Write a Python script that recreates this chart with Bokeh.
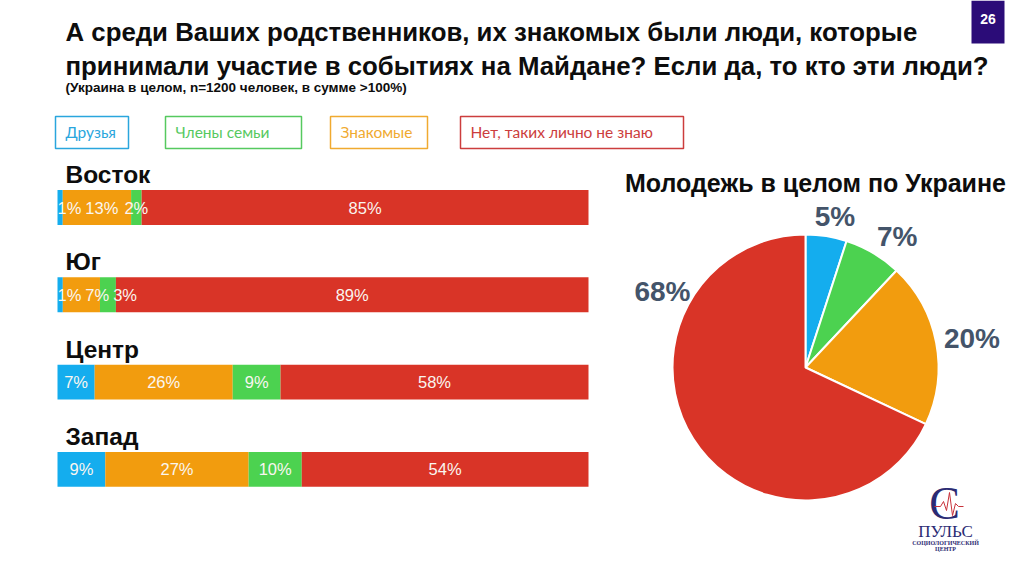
import numpy as np
from bokeh.plotting import figure
from bokeh.models import Range1d, ColumnDataSource
from bokeh.core.properties import value
from bokeh.embed import file_html
from bokeh.resources import INLINE

# ---------------- data ----------------
regions = ["Восток", "Юг", "Центр", "Запад"]
stack_order = ["Друзья", "Знакомые", "Члены семьи", "Нет, таких лично не знаю"]
friends = [1, 1, 7, 9]
acquaintances = [13, 7, 26, 27]
family = [2, 3, 9, 10]
nobody = [85, 89, 58, 54]

pie_categories = ["Друзья", "Члены семьи", "Знакомые", "Нет, таких лично не знаю"]
pie_values = [5, 7, 20, 68]

legend_items = ["Друзья", "Члены семьи", "Знакомые", "Нет, таких лично не знаю"]

title_lines = ["А среди Ваших родственников, их знакомых были люди, которые",
               "принимали участие в событиях на Майдане? Если да, то кто эти люди?"]
subtitle = "(Украина в целом, n=1200 человек, в сумме >100%)"
pie_title = "Молодежь в целом по Украине"
page_number = "26"

# ---------------- styles ----------------
bar_colors = {"Друзья": "#14ADEE", "Знакомые": "#F29C0E",
              "Члены семьи": "#4CD250", "Нет, таких лично не знаю": "#D93427"}
legend_colors = {"Друзья": "#2AA6DD", "Члены семьи": "#56C95F",
                 "Знакомые": "#F0AA30", "Нет, таких лично не знаю": "#CC3D3D"}

W, H = 1008, 553

p = figure(width=W, height=H, output_backend="svg", toolbar_location=None,
           x_axis_type=None, y_axis_type=None, min_border=0,
           x_range=Range1d(0, W), y_range=Range1d(H, 0))
p.outline_line_color = None
p.xgrid.visible = False
p.ygrid.visible = False
p.background_fill_color = "white"

ARIAL = value("Liberation Sans")
SERIF = value("Liberation Serif")
INK = "#0D0D0D"

# ---------------- bar panel: 100% stacked bars through their own ranges ----------------
bar_left_px, bar_right_px = 57, 588
px_per_pct = (bar_right_px - bar_left_px) / 100.0
row0_px, row_step_px = 207, 87.3
p.extra_x_ranges = {"pct": Range1d(-bar_left_px / px_per_pct,
                                   (W - bar_left_px) / px_per_pct)}
p.extra_y_ranges = {"row": Range1d((H - row0_px) / row_step_px,
                                   -row0_px / row_step_px)}

series = {"Друзья": friends, "Знакомые": acquaintances,
          "Члены семьи": family, "Нет, таких лично не знаю": nobody}
rows = list(range(len(regions)))
totals = np.sum([np.array(series[c], dtype=float) for c in stack_order], axis=0)
cum = np.zeros(len(regions))
segments = []
for cat in stack_order:
    raw = np.array(series[cat], dtype=float)
    share = raw / totals * 100.0
    src = ColumnDataSource(dict(y=rows, left=cum.copy(), right=cum + share))
    p.hbar(y="y", left="left", right="right", height=0.4, source=src,
           x_range_name="pct", y_range_name="row",
           fill_color=bar_colors[cat], line_color=None)
    segments.append((cum.copy(), share, raw))
    cum = cum + share

# data labels: centred, pushed right when they would overlap
fs = 16.5
def text_w(s):
    return sum(0.556 * fs if c.isdigit() else 0.889 * fs for c in s)

lx, ly, lt = [], [], []
gap = 4 / px_per_pct
for r in rows:
    prev_right = 0.0 - gap
    for start, share, raw in segments:
        s = f"{int(raw[r])}%"
        w = text_w(s) / px_per_pct
        mid = start[r] + share[r] / 2
        x = max(mid, prev_right + gap + w / 2)
        prev_right = x + w / 2
        lx.append(x); ly.append(r); lt.append(s)
p.text(x=lx, y=ly, text=lt, x_range_name="pct", y_range_name="row",
       text_align="center", text_baseline="middle", text_color="#FAF6F0",
       text_font=ARIAL, text_font_size=f"{fs}px")

# region names above each bar
p.text(x=[0] * len(regions), y=rows, text=regions, x_range_name="pct", y_range_name="row",
       text_align="left", text_baseline="middle", x_offset=8, y_offset=-33,
       text_font=ARIAL, text_font_size="24.5px", text_font_style="bold", text_color=INK)

# ---------------- pie ----------------
pie_cx, pie_cy, pie_r = 805, 367, 133
frac = np.array(pie_values, dtype=float) / sum(pie_values)
cum_after = np.cumsum(frac)
cum_before = cum_after - frac
start_ang = np.pi / 2 - 2 * np.pi * cum_before
end_ang = np.pi / 2 - 2 * np.pi * cum_after
psrc = ColumnDataSource(dict(x=[pie_cx] * len(pie_values), y=[pie_cy] * len(pie_values),
                             start=start_ang, end=end_ang,
                             color=[bar_colors[c] for c in pie_categories]))
p.wedge(x="x", y="y", radius=pie_r, radius_units="screen", start_angle="start",
        end_angle="end", direction="clock", fill_color="color", line_color="white",
        line_width=2, source=psrc)

label_angle_deg = [79, 55, 10, 152]
label_radius_px = [154, 160, 169, 162]
ang = np.radians(label_angle_deg)
p.text(x=[pie_cx] * 4, y=[pie_cy] * 4, text=[f"{v}%" for v in pie_values],
       x_offset=list(np.array(label_radius_px) * np.cos(ang)),
       y_offset=list(-np.array(label_radius_px) * np.sin(ang)),
       text_align="center", text_baseline="middle", text_font=ARIAL,
       text_font_size="28px", text_font_style="bold", text_color="#44546A")

p.text(x=[815], y=[182], text=[pie_title], text_align="center", text_baseline="middle",
       text_font=ARIAL, text_font_size="25px", text_font_style="bold", text_color=INK)

# ---------------- titles ----------------
p.text(x=[65, 65], y=[31.5, 65.5], text=title_lines, text_align="left", text_baseline="middle",
       text_font=ARIAL, text_font_size="25.8px", text_font_style="bold", text_color=INK)
p.text(x=[65], y=[87], text=[subtitle], text_align="left", text_baseline="middle",
       text_font=ARIAL, text_font_size="13.5px", text_font_style="bold", text_color=INK)

# page number box
p.quad(left=[971], right=[1004], top=[0], bottom=[43], fill_color="#2B0C78", line_color=None)
p.text(x=[987.5], y=[18], text=[page_number], text_align="center", text_baseline="middle",
       text_font=ARIAL, text_font_size="14px", text_font_style="bold", text_color="white")

# ---------------- legend boxes ----------------
leg_left = [55, 165, 330, 460]
leg_right = [128, 301, 427, 683]
leg_top, leg_bottom = 116, 148
p.quad(left=leg_left, right=leg_right, top=[leg_top] * 4, bottom=[leg_bottom] * 4,
       fill_color=None, line_color=[legend_colors[c] for c in legend_items], line_width=1.5)
p.text(x=[l + 10 for l in leg_left], y=[(leg_top + leg_bottom) / 2 - 1] * 4, text=legend_items,
       text_align="left", text_baseline="middle", text_font=value("Lato"),
       text_font_size="15.5px", text_color=[legend_colors[c] for c in legend_items])

# ---------------- logo ----------------
p.text(x=[944], y=[503], text=["С"], text_align="center", text_baseline="middle",
       text_font=SERIF, text_font_size="46px", text_color="#2B2B73")
p.line(x=[934, 940, 943, 946, 949, 952, 955, 958, 963],
       y=[506, 506, 501, 510, 492, 515, 503, 506, 506], line_color="#C8323A", line_width=1)
p.text(x=[945], y=[531], text=["ПУЛЬС"], text_align="center", text_baseline="middle",
       text_font=SERIF, text_font_size="17px", text_color="#2B2B73")
p.text(x=[945, 945], y=[542, 548.5], text=["СОЦИОЛОГИЧЕСКИЙ", "ЦЕНТР"], text_align="center",
       text_baseline="middle", text_font=SERIF, text_font_size="6px",
       text_font_style="bold", text_color="#2B2B73")

open("out.html", "w").write(file_html(p, INLINE))
